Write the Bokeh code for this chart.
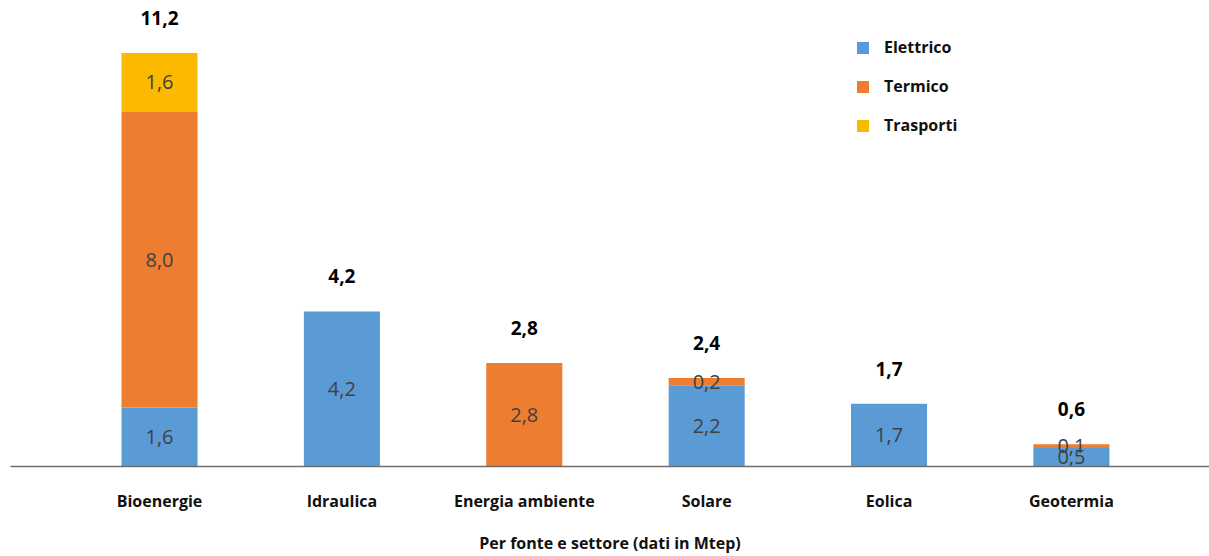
from bokeh.plotting import figure
from bokeh.models import ColumnDataSource, Legend, LegendItem, Range1d, FixedTicker
from bokeh.core.properties import value
from bokeh.embed import file_html
from bokeh.resources import INLINE

categories = ["Bioenergie", "Idraulica", "Energia ambiente", "Solare", "Eolica", "Geotermia"]
elettrico = [1.6, 4.2, 0.0, 2.2, 1.7, 0.5]
termico = [8.0, 0.0, 2.8, 0.2, 0.0, 0.1]
trasporti = [1.6, 0.0, 0.0, 0.0, 0.0, 0.0]
totali = [11.2, 4.2, 2.8, 2.4, 1.7, 0.6]
x_title = "Per fonte e settore (dati in Mtep)"

series_names = ["Elettrico", "Termico", "Trasporti"]
colors = ["#5B9BD5", "#ED7D31", "#FBBA00"]

FONT = "Open Sans"

def fmt(v):
    return ("%.1f" % v).replace(".", ",")

xs = list(range(len(categories)))
src = ColumnDataSource(dict(x=xs, Elettrico=elettrico, Termico=termico, Trasporti=trasporti))

p = figure(width=1209, height=556, output_backend="svg", toolbar_location=None,
           x_range=Range1d(-0.817, 5.757), y_range=Range1d(0, 12.62),
           min_border_left=10, min_border_right=0, min_border_top=0, min_border_bottom=87)
p.outline_line_color = None
p.grid.visible = False
p.yaxis.visible = False

renderers = p.vbar_stack(series_names, x="x", width=0.417, source=src, color=colors,
                         line_color=None)

# segment labels
lx, ly, lt = [], [], []
for i in xs:
    base = 0.0
    for vals in (elettrico, termico, trasporti):
        v = vals[i]
        if v > 0:
            lx.append(i)
            ly.append(base + v / 2)
            lt.append(fmt(v))
        base += v
p.text(x=lx, y=ly, text=lt, text_align="center", text_baseline="middle",
       text_font=value(FONT), text_font_size="20px", text_color="#404040")

# totals
p.text(x=xs, y=totali, text=[fmt(t) for t in totali], text_align="center",
       text_baseline="middle", y_offset=-35, text_font=value(FONT),
       text_font_size="19px", text_font_style="bold", text_color="#000000")

ax = p.xaxis[0]
ax.ticker = FixedTicker(ticks=xs)
ax.major_label_overrides = {i: c for i, c in enumerate(categories)}
ax.major_tick_line_color = None
ax.minor_tick_line_color = None
ax.axis_line_color = "#6d6d6d"
ax.axis_line_width = 1.5
ax.major_label_standoff = 17
ax.major_label_text_font = FONT
ax.major_label_text_font_size = "16px"
ax.major_label_text_font_style = "bold"
ax.major_label_text_color = "#111111"
ax.axis_label = x_title
ax.axis_label_text_font = FONT
ax.axis_label_text_font_size = "16px"
ax.axis_label_text_font_style = "bold"
ax.axis_label_text_color = "#111111"
ax.axis_label_standoff = 17

legend = Legend(items=[LegendItem(label=n, renderers=[r]) for n, r in zip(series_names, renderers)],
                location=(845, 330), orientation="vertical",
                glyph_width=15, glyph_height=15, label_height=15, spacing=17,
                padding=0, margin=0, border_line_color=None, background_fill_alpha=0,
                label_text_font=FONT, label_text_font_size="16px",
                label_text_font_style="bold", label_text_color="#111111",
                label_standoff=14)
p.add_layout(legend)

open("out.html", "w").write(file_html(p, INLINE))
